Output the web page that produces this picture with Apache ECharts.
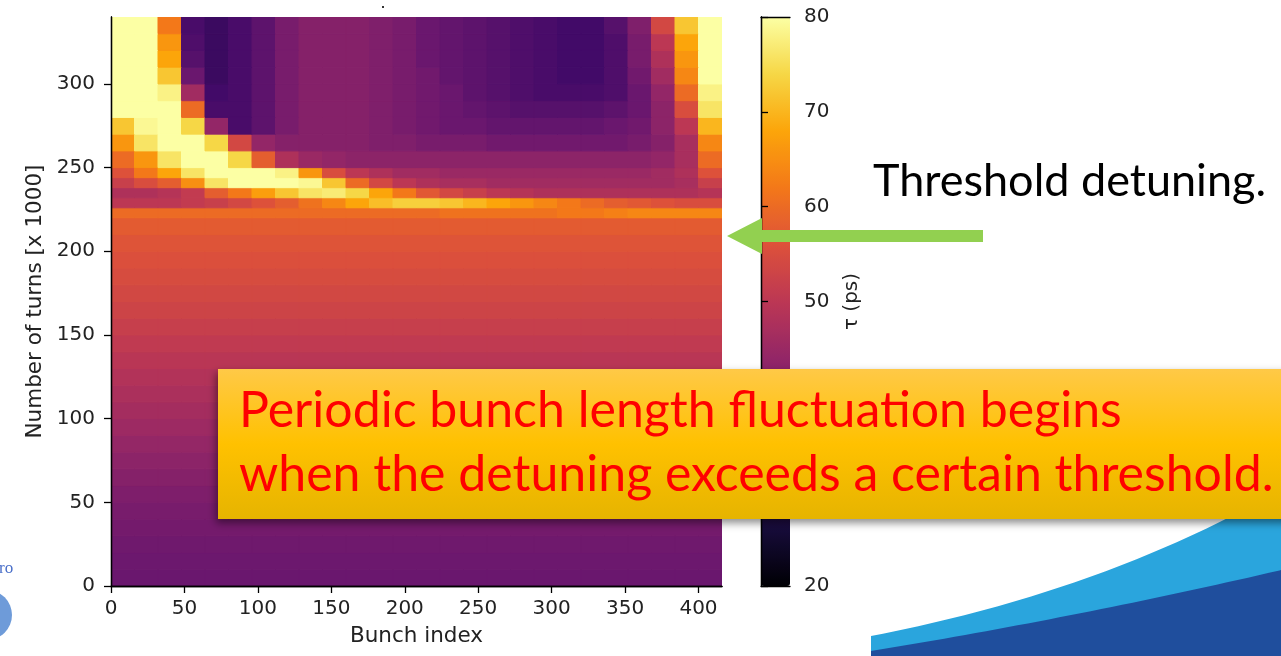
<!DOCTYPE html>
<html>
<head>
<meta charset="utf-8">
<title>Bunch length vs turns</title>
<script src="https://cdn.jsdelivr.net/npm/echarts@6.0.0/dist/echarts.min.js"></script>
<style>
  html, body { margin: 0; padding: 0; background: #fff; }
  #chart { width: 1281px; height: 656px; }
</style>
</head>
<body>
<div id="chart"></div>
<script>
// axis ticks
const xTicks = [0, 50, 100, 150, 200, 250, 300, 350, 400]
const yTicks = [0, 50, 100, 150, 200, 250, 300]

// bunch index bins (26 columns of 16 bunches)
const colEdges = [0, 16, 32, 48, 64, 80, 96, 112, 128, 144, 160, 176, 192, 208,
  224, 240, 256, 272, 288, 304, 320, 336, 352, 368, 384, 400, 416]

// lower part (0..220 k turns): tau is the same along the bunch train
const lowRowEdges = [0, 10, 20, 30, 40, 50, 60, 70, 80, 90, 100, 110, 120, 130,
  140, 150, 160, 170, 180, 190, 200, 210, 220]
const tauLower = [38.0, 38.3, 38.8, 39.4, 40.1, 40.9, 41.9, 43.0, 44.2, 45.4, 46.5,
  47.5, 48.5, 49.6, 50.7, 51.8, 52.9, 53.9, 54.8, 55.6, 56.4, 57.6]

// upper part (after threshold), one array per row of turns
const upRowEdges = [220, 226, 232, 238, 244, 250, 260, 270, 280, 290, 300, 310, 320, 330, 340]
const tau223 = [60,60,60,60,60,60,60,60,60,60,60,60,60,60,61,61,61,61,61,62,62,63,64,64,64,64]
const tau229 = [50,50,50,51,52,54,56,58,61,64,68,71,73,73,72,70,68,66,64,62,60,58,57,56,55,55]
const tau235 = [48,48,49,51,58,62,67,72,76,77,74,68,62,57,54,52,50,49,48,48,48,48,48,48,48,49]
const tau241 = [52,55,58,65,76,80,80,80,79,72,60,54,50,48,47,47,46,46,46,46,46,46,46,46,47,52]
const tau247 = [56,62,68,76,80,80,80,78,66,55,50,48,46,46,45,45,45,45,45,45,45,45,45,46,48,56]
const tau255 = [60,66,76,80,80,74,58,48,45,44,43,43,43,43,43,43,43,43,43,43,43,43,43,44,47,60]
const tau265 = [66,76,80,80,74,54,44,42,42,42,42,41,41,40,40,40,39,39,39,39,39,39,40,42,47,64]
const tau275 = [72,79,80,74,44,33,36,40,42,42,42,41,40,39,38,38,37,37,37,37,37,38,39,43,50,70]
const tau285 = [80,80,80,60,33,33,36,40,42,42,42,41,40,39,38,37,36,35,35,35,35,36,38,43,55,76]
const tau295 = [80,80,78,46,32,33,36,40,42,42,42,41,40,39,38,36,35,34,33,33,33,34,38,44,60,78]
const tau305 = [80,80,72,38,31,33,36,40,42,42,42,41,40,39,37,36,35,34,33,32,32,34,39,46,64,80]
const tau315 = [80,80,68,35,31,33,36,40,42,42,42,41,40,38,37,36,35,34,33,32,32,34,40,48,66,80]
const tau325 = [80,80,66,34,31,33,36,40,42,42,42,41,40,38,37,36,35,34,33,32,32,34,40,50,68,80]
const tau335 = [80,80,62,33,31,33,36,40,42,42,42,41,40,38,37,36,35,34,33,32,32,35,41,54,72,80]
const upperRows = [tau223, tau229, tau235, tau241, tau247, tau255, tau265, tau275,
  tau285, tau295, tau305, tau315, tau325, tau335]

const inferno = ['#000004', '#160b39', '#420a68', '#6a176e', '#932667', '#bc3754',
  '#dd513a', '#f37819', '#fca50a', '#f6d746', '#fcffa4']

// cells: [x0, x1, y0, y1, tau]
let cells = []
tauLower.forEach((v, r) => {
  for (let c = 0; c < colEdges.length - 1; c++) {
    cells.push([colEdges[c], colEdges[c + 1], lowRowEdges[r], lowRowEdges[r + 1], v])
  }
})
upperRows.forEach((row, r) => {
  row.forEach((v, c) => {
    cells.push([colEdges[c], colEdges[c + 1], upRowEdges[r], upRowEdges[r + 1], v])
  })
})

function renderCell (params, api) {
  let a = api.coord([api.value(0), api.value(3)])
  let b = api.coord([api.value(1), api.value(2)])
  let color = api.visual('color')
  return {
    type: 'rect',
    shape: { x: a[0], y: a[1], width: b[0] - a[0], height: b[1] - a[1] },
    style: { fill: color, stroke: color, lineWidth: 1 }
  }
}

// slide swoosh outline (quadratic curve to a closed polygon)
function swoosh (p0, c, p1) {
  let pts = []
  for (let i = 0; i <= 40; i++) {
    let t = i / 40
    let u = 1 - t
    pts.push([u * u * p0[0] + 2 * u * t * c[0] + t * t * p1[0], u * u * p0[1] + 2 * u * t * c[1] + t * t * p1[1]])
  }
  pts.push([1290, 660], [p0[0], 660])
  return pts
}

const tickFont = { fontFamily: 'DejaVu Sans', fontSize: 20, color: '#222' }
const nameFont = { fontFamily: 'DejaVu Sans', fontSize: 21.5, color: '#222' }
const frameLine = { show: true, lineStyle: { color: '#000', width: 1.3 } }

let chart = echarts.init(document.getElementById('chart'))
let option = {
  animation: false,
  backgroundColor: '#fff',
  textStyle: { fontFamily: 'DejaVu Sans' },
  grid: [
    { left: 111, top: 17, width: 611, height: 569 },
    { left: 761, top: 17, width: 29, height: 569 }
  ],
  xAxis: [
    {
      gridIndex: 0, type: 'value', min: 0, max: 416, position: 'bottom', z: 10,
      axisLine: frameLine,
      axisTick: { show: true, inside: false, length: 7, customValues: xTicks, lineStyle: { color: '#000', width: 1.3 } },
      axisLabel: Object.assign({ margin: 13, customValues: xTicks }, tickFont),
      splitLine: { show: false },
      name: 'Bunch index', nameLocation: 'middle', nameGap: 39,
      nameTextStyle: nameFont
    },
    {
      gridIndex: 0, type: 'value', min: 0, max: 416, position: 'top', z: 10,
      axisLine: frameLine, axisTick: { show: false }, axisLabel: { show: false }, splitLine: { show: false }
    },
    {
      gridIndex: 1, type: 'value', min: 0, max: 1, position: 'bottom', z: 10,
      axisLine: frameLine, axisTick: { show: false }, axisLabel: { show: false }, splitLine: { show: false }
    },
    {
      gridIndex: 1, type: 'value', min: 0, max: 1, position: 'top', z: 10,
      axisLine: frameLine, axisTick: { show: false }, axisLabel: { show: false }, splitLine: { show: false }
    }
  ],
  yAxis: [
    {
      gridIndex: 0, type: 'value', min: 0, max: 340, position: 'left', z: 10,
      axisLine: frameLine,
      axisTick: { show: true, inside: false, length: 7, customValues: yTicks, lineStyle: { color: '#000', width: 1.3 } },
      axisLabel: Object.assign({ margin: 16, customValues: yTicks }, tickFont),
      splitLine: { show: false },
      name: 'Number of turns [x 1000]', nameLocation: 'middle', nameGap: 65, nameRotate: 90,
      nameTextStyle: nameFont
    },
    {
      gridIndex: 0, type: 'value', min: 0, max: 340, position: 'right', z: 10,
      axisLine: frameLine, axisTick: { show: false }, axisLabel: { show: false }, splitLine: { show: false }
    },
    {
      gridIndex: 1, type: 'value', min: 20, max: 80, interval: 10, position: 'right', z: 10,
      axisLine: frameLine,
      axisTick: { show: true, inside: false, length: 7, lineStyle: { color: '#000', width: 1.3 } },
      axisLabel: Object.assign({ margin: 14 }, tickFont),
      splitLine: { show: false },
      name: 'τ (ps)', nameLocation: 'middle', nameGap: 52, nameRotate: 90,
      nameTextStyle: tickFont
    },
    {
      gridIndex: 1, type: 'value', min: 20, max: 80, position: 'left', z: 10,
      axisLine: frameLine, axisTick: { show: false }, axisLabel: { show: false }, splitLine: { show: false }
    }
  ],
  visualMap: {
    type: 'continuous', min: 20, max: 80, dimension: 4, seriesIndex: 0,
    orient: 'vertical', left: 761, top: 17, itemWidth: 29, itemHeight: 569,
    padding: 0, calculable: false, hoverLink: false,
    inRange: { color: inferno }
  },
  series: [
    {
      type: 'custom', xAxisIndex: 0, yAxisIndex: 0, clip: true, silent: true,
      renderItem: renderCell,
      encode: { x: [0, 1], y: [2, 3] },
      data: cells
    }
  ],
  graphic: [
    // slide decoration, bottom right
    {
      type: 'polygon', z: 50,
      shape: { points: swoosh([871, 636], [1110, 590], [1290, 484]) },
      style: { fill: '#2aa5dd' }
    },
    {
      type: 'polygon', z: 51,
      shape: { points: swoosh([871, 651], [1080, 617], [1290, 568]) },
      style: { fill: '#1f4e9d' }
    },
    // slide decoration, bottom left
    { type: 'circle', z: 50, shape: { cx: -13, cy: 615, r: 25 }, style: { fill: '#6e9bd9' } },
    {
      type: 'text', z: 50,
      style: { text: 'ro', x: -1, y: 569, font: '17px "Liberation Serif"', fill: '#4a6fc9', verticalAlign: 'middle' }
    },
    { type: 'rect', z: 50, shape: { x: 382, y: 6, width: 2, height: 2 }, style: { fill: '#333' } },
    // annotations
    {
      type: 'text', z: 60,
      style: { text: 'Threshold detuning.', x: 873, y: 181, font: '45px Lato', fill: '#000', verticalAlign: 'middle' }
    },
    {
      type: 'polygon', z: 60,
      shape: { points: [[727, 236], [762, 218], [762, 230], [983, 230], [983, 242], [762, 242], [762, 254]] },
      style: { fill: '#92d050' }
    },
    {
      type: 'rect', z: 70,
      shape: { x: 218, y: 369, width: 1080, height: 150 },
      style: {
        fill: {
          type: 'linear', x: 0, y: 0, x2: 0, y2: 1,
          colorStops: [
            { offset: 0, color: '#ffc947' },
            { offset: 0.5, color: '#ffc100' },
            { offset: 1, color: '#e6b400' }
          ]
        },
        shadowBlur: 8, shadowOffsetX: -2, shadowOffsetY: 4, shadowColor: 'rgba(0,0,0,0.45)'
      }
    },
    {
      type: 'text', z: 71,
      style: { text: 'Periodic bunch length fluctuation begins', x: 239, y: 411, font: '50px Lato', fill: '#ff0000', verticalAlign: 'middle' }
    },
    {
      type: 'text', z: 71,
      style: { text: 'when the detuning exceeds a certain threshold.', x: 239, y: 475, font: '50px Lato', fill: '#ff0000', verticalAlign: 'middle' }
    }
  ]
}
chart.setOption(option)
</script>
</body>
</html>
